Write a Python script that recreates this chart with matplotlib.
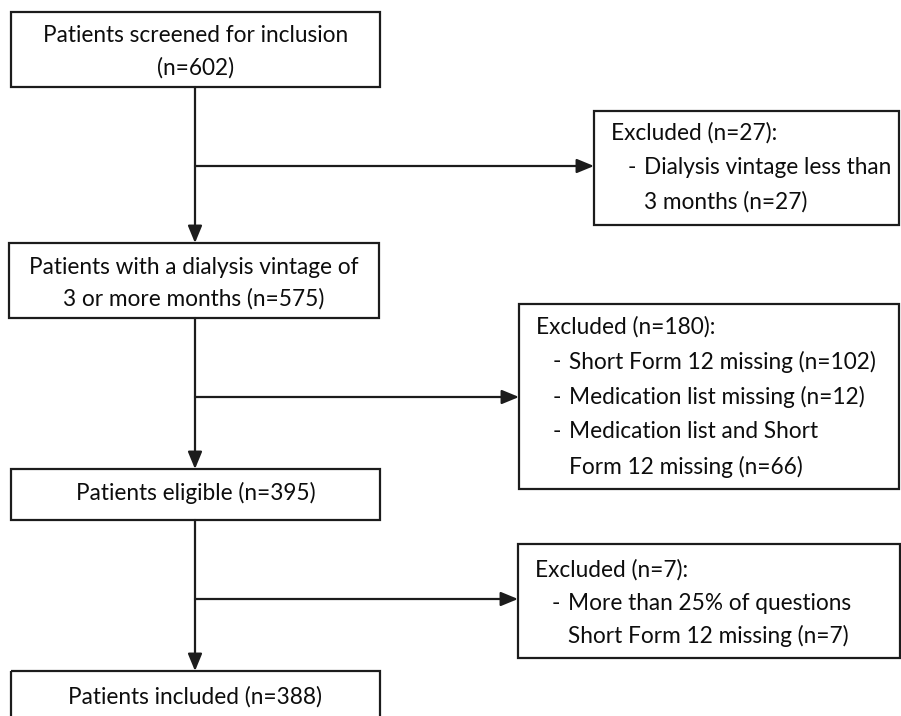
import matplotlib
matplotlib.use("Agg")
import matplotlib.pyplot as plt
from matplotlib.patches import Rectangle, FancyArrowPatch

# ---- content ----
main_texts = [
    "Patients screened for inclusion\n(n=602)",
    "Patients with a dialysis vintage of\n3 or more months (n=575)",
    "Patients eligible (n=395)",
    "Patients included (n=388)",
]
excl_titles = ["Excluded (n=27):", "Excluded (n=180):", "Excluded (n=7):"]
excl_items = [
    [["Dialysis vintage less than", "3 months (n=27)"]],
    [["Short Form 12 missing (n=102)"],
     ["Medication list missing (n=12)"],
     ["Medication list and Short", "Form 12 missing (n=66)"]],
    [["More than 25% of questions", "Short Form 12 missing (n=7)"]],
]

# ---- layout (pixel coordinates, y downward) ----
main_boxes = [(11, 12, 380, 87), (9, 243, 379, 318), (11, 469, 380, 520), (11, 671, 380, 730)]
main_text_y = [(35, 68), (267, 299), (493,), (697,)]
excl_boxes = [(594, 111, 899, 225), (519, 304, 899, 489), (518, 544, 900, 658)]
excl_title_x = [611, 536, 535]
excl_first_y = [133, 327, 570]
excl_step = [34.5, 35.0, 33.0]
branch_y = [166, 397, 599]
vx = 195

LC = "#1c1c1c"
LW = 1.6
FONT = "Lato"
FS = 16.3

fig = plt.figure(figsize=(9.01, 7.16), dpi=100)
ax = fig.add_axes([0, 0, 1, 1])
ax.set_xlim(0, 901)
ax.set_ylim(716, 0)
ax.axis("off")

def box(x0, y0, x1, y1):
    ax.add_patch(Rectangle((x0, y0), x1 - x0, y1 - y0, fill=False,
                           edgecolor=LC, linewidth=LW, clip_on=True))

def arrow(p0, p1):
    ax.add_patch(FancyArrowPatch(p0, p1, arrowstyle="-|>,head_length=0.8,head_width=0.33",
                                 mutation_scale=13, color=LC, linewidth=LW,
                                 shrinkA=0, shrinkB=0))

for i, (b, t) in enumerate(zip(main_boxes, main_texts)):
    box(*b)
    cx = (b[0] + b[2]) / 2
    for line, yy in zip(t.split("\n"), main_text_y[i]):
        ax.text(cx, yy, line, ha="center", va="center", fontsize=FS,
                family=FONT, color="#0d0d0d")

for i in range(3):
    arrow((vx, main_boxes[i][3]), (vx, main_boxes[i + 1][1]))
    arrow((vx, branch_y[i]), (excl_boxes[i][0], branch_y[i]))
    box(*excl_boxes[i])
    y = excl_first_y[i]
    tx = excl_title_x[i]
    ax.text(tx, y, excl_titles[i], ha="left", va="center", fontsize=FS,
            family=FONT, color="#0d0d0d")
    for item in excl_items[i]:
        for j, line in enumerate(item):
            y += excl_step[i]
            if j == 0:
                ax.text(tx + 17, y, "-", ha="left", va="center", fontsize=FS,
                        family=FONT, color="#0d0d0d")
            ax.text(tx + 33, y, line, ha="left", va="center", fontsize=FS,
                    family=FONT, color="#0d0d0d")

fig.savefig("out.png", dpi=100)
